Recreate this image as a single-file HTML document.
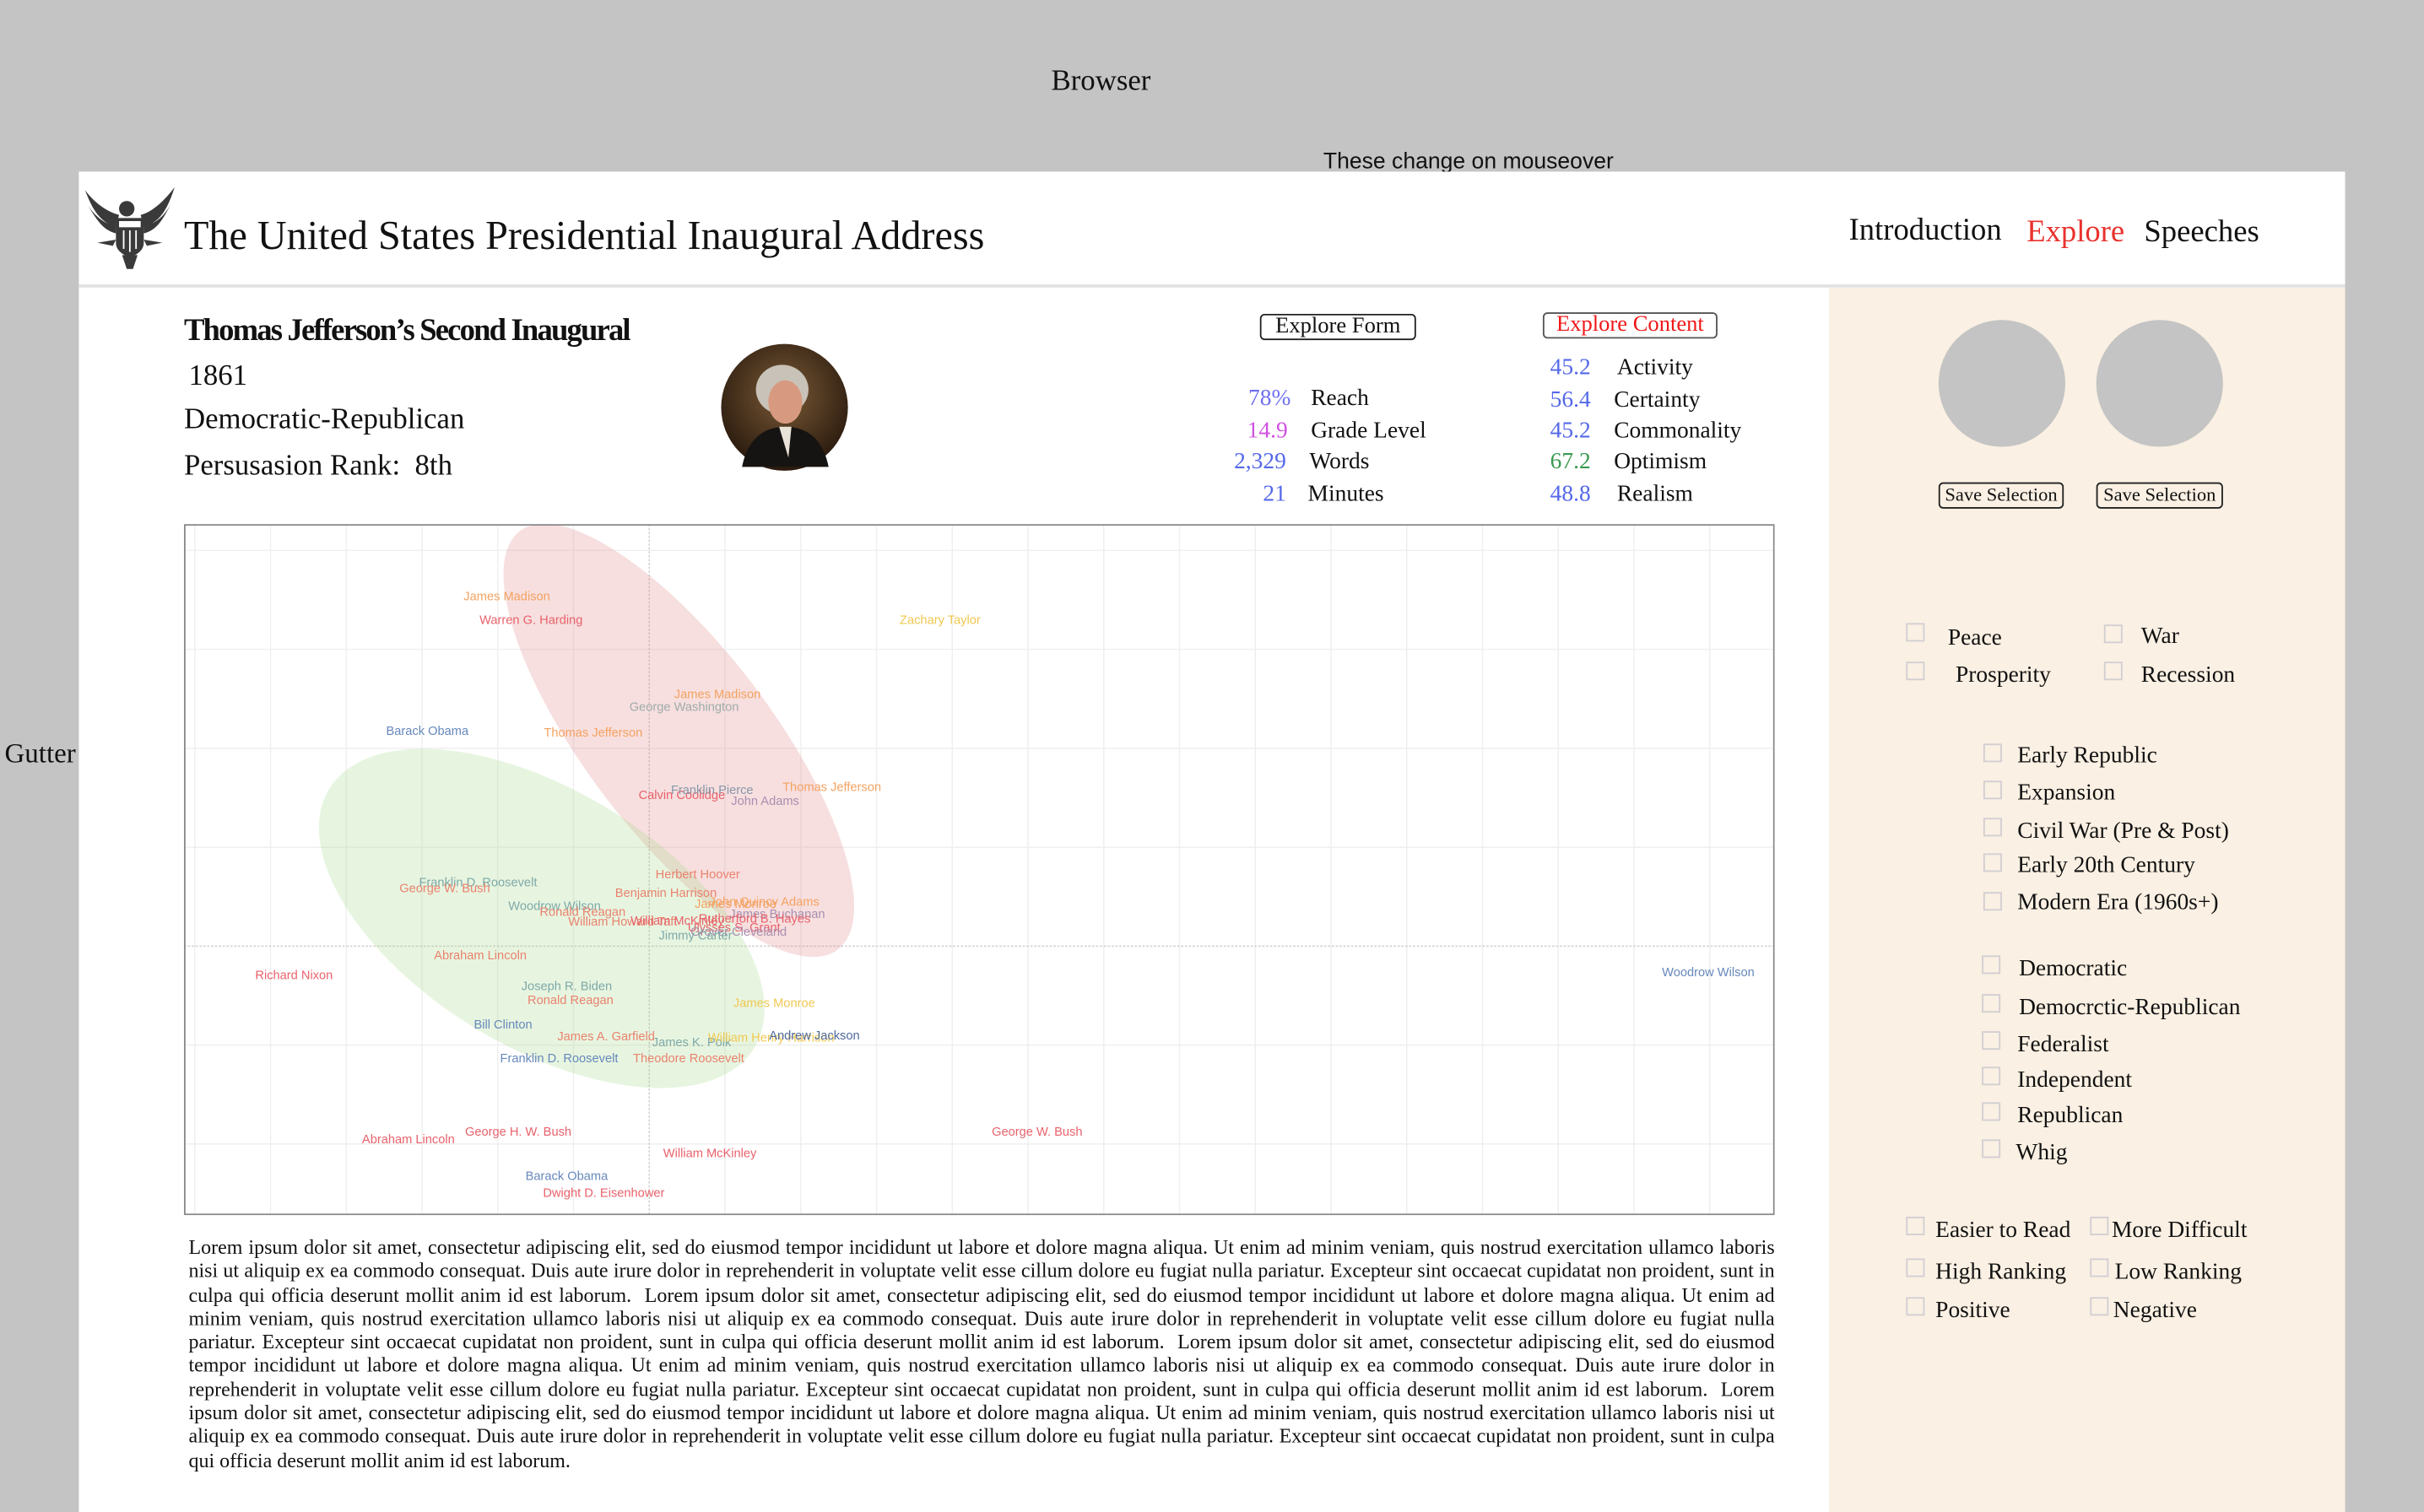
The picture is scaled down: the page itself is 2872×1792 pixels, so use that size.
<!DOCTYPE html>
<html><head><meta charset="utf-8"><style>
html,body{margin:0;padding:0;width:2872px;height:1792px;overflow:hidden;background:#c4c4c4}
#root{position:absolute;left:0;top:0;width:1568px;height:978px;transform-origin:0 0;transform:scale(1.8316,1.8323);font-family:"Liberation Serif",serif;color:#111}
.a{position:absolute;white-space:nowrap}
.cb{position:absolute;width:10px;height:10px;border:1.3px solid #d2ced2;background:transparent}
.sb{font-size:15px;margin-top:3px}
.btn{position:absolute;border:1.2px solid #222;border-radius:3px;font-size:14.5px;line-height:15px;padding:0 5px;text-align:center;white-space:nowrap}
.num{position:absolute;text-align:right;width:60px;font-size:15px;margin-top:2px}
.lab{position:absolute;font-size:15px;margin-top:2px;white-space:nowrap}
</style></head><body>
<div id="root">
  <div class="a" style="left:680px;top:42px;font-size:19px">Browser</div>
  <div class="a" style="left:856px;top:97px;font-size:14.5px;font-family:'Liberation Sans',sans-serif">These change on mouseover</div>
  <div class="a" style="left:3px;top:477px;font-size:18px">Gutter</div>

  <div class="a" style="left:51px;top:111px;width:1466px;height:867px;background:#fff"></div>
  <div class="a" style="left:51px;top:184px;width:1466px;height:1.5px;background:#e2e2e2"></div>

  <svg class="a" style="left:53px;top:119px" width="62" height="55" viewBox="0 0 62 55">
    <g fill="#3a3a3a">
      <path d="M2 4 C6 14 10 24 22 28 L24 20 C16 18 8 12 2 4Z"/>
      <path d="M60 2 C56 14 52 24 40 28 L38 20 C46 18 54 10 60 2Z"/>
      <path d="M4 14 C10 24 14 30 22 32 L22 27 C14 26 8 20 4 14Z"/>
      <path d="M58 12 C52 24 48 30 40 32 L40 27 C48 26 54 20 58 12Z"/>
      <circle cx="29" cy="16" r="5"/>
      <path d="M22 22 L40 22 L40 38 C40 44 34 46 31 48 C28 46 22 44 22 38Z"/>
      <path d="M26 46 L36 46 L33 55 L29 55Z"/>
      <path d="M10 38 L22 36 L20 40Z"/><path d="M52 38 L40 36 L42 40Z"/>
    </g>
    <rect x="24" y="24" width="14" height="4" fill="#fff"/>
    <g stroke="#fff" stroke-width="1"><line x1="27" y1="30" x2="27" y2="42"/><line x1="31" y1="30" x2="31" y2="44"/><line x1="35" y1="30" x2="35" y2="42"/></g>
  </svg>
  <div class="a" style="left:119px;top:138px;font-size:26.3px">The United States Presidential Inaugural Address</div>
  <div class="a" style="left:1196px;top:138px;font-size:20px">Introduction</div>
  <div class="a" style="left:1311px;top:139px;font-size:20px;color:#e8322e">Explore</div>
  <div class="a" style="left:1387px;top:139px;font-size:20px">Speeches</div>

  <div class="a" style="left:119px;top:203px;font-size:20px;font-weight:bold;letter-spacing:-1px">Thomas Jefferson’s Second Inaugural</div>
  <div class="a" style="left:122px;top:233px;font-size:19px">1861</div>
  <div class="a" style="left:119px;top:261px;font-size:19px">Democratic-Republican</div>
  <div class="a" style="left:119px;top:291px;font-size:19px">Persusasion Rank:&nbsp; 8th</div>
  <svg class="a" style="left:466px;top:222px" width="83" height="83">
    <defs><radialGradient id="bg" cx="0.5" cy="0.4" r="0.6"><stop offset="0" stop-color="#7a5a36"/><stop offset="1" stop-color="#2a1a0e"/></radialGradient></defs>
    <circle cx="41.5" cy="41.5" r="41" fill="url(#bg)"/>
    <ellipse cx="40" cy="30" rx="17" ry="16" fill="#c9c2b8"/>
    <ellipse cx="42" cy="38" rx="11" ry="14" fill="#d79a80"/>
    <path d="M14 80 C18 60 30 54 42 54 C54 54 66 60 70 80Z" fill="#161412"/>
    <path d="M38 54 L46 54 L44 74 Z" fill="#e8e2d8"/>
  </svg>

  <div class="btn" style="left:815px;top:203px;width:89px">Explore Form</div>
  <div class="btn" style="left:998px;top:202px;width:101px;color:#f01818;border-color:#555">Explore Content</div>

  <div class="num" style="left:775px;top:248px;color:#6f6ff0">78%</div>
  <div class="lab" style="left:848px;top:248px">Reach</div>
  <div class="num" style="left:773px;top:269px;color:#d050e0">14.9</div>
  <div class="lab" style="left:848px;top:269px">Grade Level</div>
  <div class="num" style="left:772px;top:289px;color:#5468e8">2,329</div>
  <div class="lab" style="left:847px;top:289px">Words</div>
  <div class="num" style="left:772px;top:310px;color:#5468e8">21</div>
  <div class="lab" style="left:846px;top:310px">Minutes</div>

  <div class="num" style="left:969px;top:228px;color:#5468e8">45.2</div>
  <div class="lab" style="left:1046px;top:228px">Activity</div>
  <div class="num" style="left:969px;top:249px;color:#5468e8">56.4</div>
  <div class="lab" style="left:1044px;top:249px">Certainty</div>
  <div class="num" style="left:969px;top:269px;color:#5468e8">45.2</div>
  <div class="lab" style="left:1044px;top:269px">Commonality</div>
  <div class="num" style="left:969px;top:289px;color:#3a9a50">67.2</div>
  <div class="lab" style="left:1044px;top:289px">Optimism</div>
  <div class="num" style="left:969px;top:310px;color:#5468e8">48.8</div>
  <div class="lab" style="left:1046px;top:310px">Realism</div>

  <svg id="chart" class="a" style="left:119px;top:339px;overflow:hidden" width="1029" height="447"></svg>

  <div class="a" style="left:122px;top:799px;width:1026px;white-space:normal;font-size:13.1px;line-height:15.3px;text-align:justify">Lorem ipsum dolor sit amet, consectetur adipiscing elit, sed do eiusmod tempor incididunt ut labore et dolore magna aliqua. Ut enim ad minim veniam, quis nostrud exercitation ullamco laboris nisi ut aliquip ex ea commodo consequat. Duis aute irure dolor in reprehenderit in voluptate velit esse cillum dolore eu fugiat nulla pariatur. Excepteur sint occaecat cupidatat non proident, sunt in culpa qui officia deserunt mollit anim id est laborum.&nbsp; Lorem ipsum dolor sit amet, consectetur adipiscing elit, sed do eiusmod tempor incididunt ut labore et dolore magna aliqua. Ut enim ad minim veniam, quis nostrud exercitation ullamco laboris nisi ut aliquip ex ea commodo consequat. Duis aute irure dolor in reprehenderit in voluptate velit esse cillum dolore eu fugiat nulla pariatur. Excepteur sint occaecat cupidatat non proident, sunt in culpa qui officia deserunt mollit anim id est laborum.&nbsp; Lorem ipsum dolor sit amet, consectetur adipiscing elit, sed do eiusmod tempor incididunt ut labore et dolore magna aliqua. Ut enim ad minim veniam, quis nostrud exercitation ullamco laboris nisi ut aliquip ex ea commodo consequat. Duis aute irure dolor in reprehenderit in voluptate velit esse cillum dolore eu fugiat nulla pariatur. Excepteur sint occaecat cupidatat non proident, sunt in culpa qui officia deserunt mollit anim id est laborum.&nbsp; Lorem ipsum dolor sit amet, consectetur adipiscing elit, sed do eiusmod tempor incididunt ut labore et dolore magna aliqua. Ut enim ad minim veniam, quis nostrud exercitation ullamco laboris nisi ut aliquip ex ea commodo consequat. Duis aute irure dolor in reprehenderit in voluptate velit esse cillum dolore eu fugiat nulla pariatur. Excepteur sint occaecat cupidatat non proident, sunt in culpa qui officia deserunt mollit anim id est laborum.</div>

  <div class="a" style="left:1183px;top:186px;width:334px;height:792px;background:#faf0e3"></div>
  <div class="a" style="left:1254px;top:207px;width:82px;height:82px;border-radius:50%;background:#c4c4c4"></div>
  <div class="a" style="left:1356px;top:207px;width:82px;height:82px;border-radius:50%;background:#c4c4c4"></div>
  <div class="btn" style="left:1254px;top:312px;width:77px;font-size:12.3px;line-height:15px;padding:0 1px">Save Selection</div>
  <div class="btn" style="left:1356px;top:312px;width:78px;font-size:12.3px;line-height:15px;padding:0 1px">Save Selection</div>

  <div class="cb" style="left:1233px;top:403px"></div>
  <div class="a sb" style="left:1260px;top:402px">Peace</div>
  <div class="cb" style="left:1361px;top:404px"></div>
  <div class="a sb" style="left:1385px;top:401px">War</div>
  <div class="cb" style="left:1233px;top:428px"></div>
  <div class="a sb" style="left:1265px;top:426px">Prosperity</div>
  <div class="cb" style="left:1361px;top:428px"></div>
  <div class="a sb" style="left:1385px;top:426px">Recession</div>

  <div class="cb" style="left:1283px;top:481px"></div>
  <div class="a sb" style="left:1305px;top:478px">Early Republic</div>
  <div class="cb" style="left:1283px;top:505px"></div>
  <div class="a sb" style="left:1305px;top:502px">Expansion</div>
  <div class="cb" style="left:1283px;top:529px"></div>
  <div class="a sb" style="left:1305px;top:527px">Civil War (Pre &amp; Post)</div>
  <div class="cb" style="left:1283px;top:552px"></div>
  <div class="a sb" style="left:1305px;top:549px">Early 20th Century</div>
  <div class="cb" style="left:1283px;top:577px"></div>
  <div class="a sb" style="left:1305px;top:573px">Modern Era (1960s+)</div>

  <div class="cb" style="left:1282px;top:618px"></div>
  <div class="a sb" style="left:1306px;top:616px">Democratic</div>
  <div class="cb" style="left:1282px;top:643px"></div>
  <div class="a sb" style="left:1306px;top:641px">Democrctic-Republican</div>
  <div class="cb" style="left:1282px;top:667px"></div>
  <div class="a sb" style="left:1305px;top:665px">Federalist</div>
  <div class="cb" style="left:1282px;top:690px"></div>
  <div class="a sb" style="left:1305px;top:688px">Independent</div>
  <div class="cb" style="left:1282px;top:713px"></div>
  <div class="a sb" style="left:1305px;top:711px">Republican</div>
  <div class="cb" style="left:1282px;top:737px"></div>
  <div class="a sb" style="left:1304px;top:735px">Whig</div>

  <div class="cb" style="left:1233px;top:787px"></div>
  <div class="a sb" style="left:1252px;top:785px">Easier to Read</div>
  <div class="cb" style="left:1352px;top:787px"></div>
  <div class="a sb" style="left:1366px;top:785px">More Difficult</div>
  <div class="cb" style="left:1233px;top:814px"></div>
  <div class="a sb" style="left:1252px;top:812px">High Ranking</div>
  <div class="cb" style="left:1352px;top:814px"></div>
  <div class="a sb" style="left:1368px;top:812px">Low Ranking</div>
  <div class="cb" style="left:1233px;top:839px"></div>
  <div class="a sb" style="left:1252px;top:837px">Positive</div>
  <div class="cb" style="left:1352px;top:839px"></div>
  <div class="a sb" style="left:1367px;top:837px">Negative</div>
</div>
<script>
const names = ["James Madison","Warren G. Harding","Zachary Taylor","James Madison","George Washington","Barack Obama","Thomas Jefferson","Calvin Coolidge","Franklin Pierce","John Adams","Thomas Jefferson","Herbert Hoover","Franklin D. Roosevelt","George W. Bush","Benjamin Harrison","James Monroe","John Quincy Adams","Woodrow Wilson","Ronald Reagan","James Buchanan","Rutherford B. Hayes","William Howard Taft","William McKinley","Ulysses S. Grant","Grover Cleveland","Jimmy Carter","Abraham Lincoln","Richard Nixon","Joseph R. Biden","Ronald Reagan","James Monroe","Bill Clinton","James A. Garfield","James K. Polk","William Henry Harrison","Andrew Jackson","Franklin D. Roosevelt","Theodore Roosevelt","George H. W. Bush","Abraham Lincoln","William McKinley","Barack Obama","Dwight D. Eisenhower","George W. Bush","Woodrow Wilson"];
const xVals = [-1.88,-1.56,3.84,0.90,0.46,-2.93,-0.74,0.43,0.83,1.53,2.41,0.64,-2.26,-2.70,0.22,1.14,1.52,-1.25,-0.88,1.69,1.39,-0.35,0.37,1.12,1.18,0.61,-2.23,-4.69,-1.09,-1.04,1.65,-1.93,-0.57,0.56,1.61,2.18,-1.19,0.52,-1.73,-3.18,0.80,-1.09,-0.60,5.12,13.98];
const yVals = [3.54,3.30,3.30,2.55,2.42,2.18,2.16,1.53,1.58,1.47,1.61,0.73,0.65,0.59,0.54,0.43,0.45,0.41,0.35,0.33,0.28,0.25,0.26,0.19,0.15,0.11,-0.09,-0.29,-0.40,-0.54,-0.57,-0.79,-0.91,-0.97,-0.92,-0.90,-1.13,-1.13,-1.87,-1.95,-2.09,-2.32,-2.49,-1.87,-0.26];
const groups = ["orange","red","yellow","orange","grey","blue","orange","red","slate","purple","orange","coral","teal","coral","coral","orange","orange","teal","coral","purple","red","coral","red","red","purple","teal","coral","red","teal","coral","yellow","blue","coral","teal","yellow","navy","blue","coral","red","red","red","blue","red","red","blue"];
const ellCenterX = [0.39,-1.42];
const ellCenterY = [2.08,0.28];
const palette = {orange:"#f4a260",red:"#e8626b",yellow:"#f0c850",grey:"#9fabab",blue:"#6688bb",slate:"#8898aa",purple:"#a88fb0",coral:"#e9826e",teal:"#7fa8a8",navy:"#4f6a9c"};
const W=1029,H=447,X0=301,Y0=273,SX=49,SY=64;
function xs(v){return X0+v*SX;}
function ys(v){return Y0-v*SY;}
const svg=document.getElementById('chart');
const NS="http://www.w3.org/2000/svg";
function mk(t,a){const e=document.createElementNS(NS,t);for(const k in a)e.setAttribute(k,a[k]);svg.appendChild(e);return e;}
const bgRect=mk('rect',{x:0,y:0,width:W,height:H,fill:'#fff'});


for(let k=-6;k<=15;k++){const x=xs(k);if(x<=0||x>=W||k===0)continue;
 const l=mk('line',{x1:x,y1:0,x2:x,y2:H,stroke:'#efefef','stroke-width':0.8});
 
 }
for(let k=-3;k<=5;k++){const y=ys(k);if(y<=0||y>=H||k===0)continue;
 const l=mk('line',{x1:0,y1:y,x2:W,y2:y,stroke:'#efefef','stroke-width':0.8});
 
 }
const zx=mk('line',{x1:xs(0),y1:0,x2:xs(0),y2:H,stroke:'#cfcfcf','stroke-width':0.8,'stroke-dasharray':'1.5,1'});


const zy=mk('line',{x1:0,y1:ys(0),x2:W,y2:ys(0),stroke:'#cfcfcf','stroke-width':0.8,'stroke-dasharray':'1.5,1'});


const e1=mk('ellipse',{cx:xs(ellCenterX[0]),cy:ys(ellCenterY[0]),rx:170,ry:60,fill:'rgba(226,140,140,0.28)',transform:`rotate(52.75 ${xs(ellCenterX[0])} ${ys(ellCenterY[0])})`});


const e2=mk('ellipse',{cx:xs(ellCenterX[1]),cy:ys(ellCenterY[1]),rx:161,ry:83,fill:'rgba(160,215,130,0.25)',transform:`rotate(31.35 ${xs(ellCenterX[1])} ${ys(ellCenterY[1])})`});


for(let i=0;i<names.length;i++){
 const t=mk('text',{x:xs(xVals[i]),y:ys(yVals[i])+2.8,'text-anchor':'middle','font-size':'8','font-family':'Liberation Sans, sans-serif',fill:palette[groups[i]]});
 t.textContent=names[i];
 
 
}
const fr=mk('rect',{x:0.5,y:0.5,width:W-1,height:H-1,fill:'none',stroke:'#888','stroke-width':1});


</script>
</body></html>
